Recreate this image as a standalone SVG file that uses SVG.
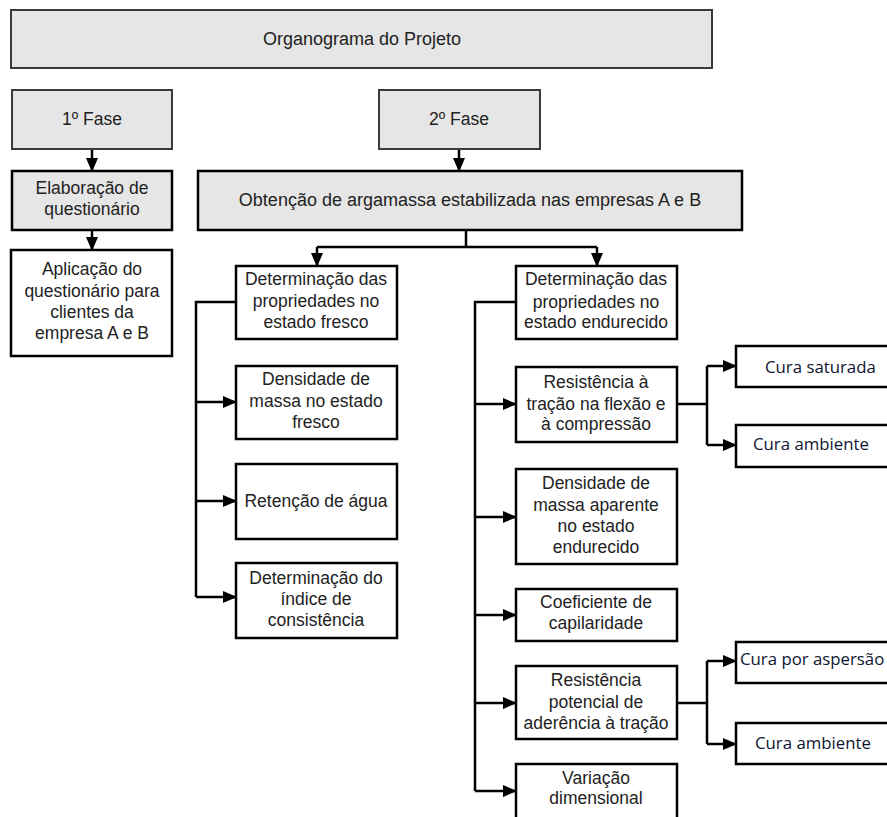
<svg xmlns="http://www.w3.org/2000/svg" width="887" height="817" viewBox="0 0 887 817">
<defs>
<marker id="ah" markerUnits="userSpaceOnUse" markerWidth="14" markerHeight="12" refX="13" refY="6" orient="auto">
<path d="M0,0 L14,6 L0,12 Z" fill="#000"/>
</marker>
<style>
.g{fill:#e6e6e6;stroke:#3a3a3a;stroke-width:2}
.gb{fill:#e6e6e6;stroke:#000;stroke-width:2.5}
.w{fill:#fff;stroke:#000;stroke-width:2.5}
.t{font-family:"Liberation Sans",Arial,sans-serif;font-size:17.5px;fill:#222;text-anchor:middle}
.c{font-family:"Open Sans","Noto Sans",sans-serif;font-size:16.8px;fill:#0d1530}
.ln{fill:none;stroke:#000;stroke-width:2.5}
.ar{fill:none;stroke:#000;stroke-width:2.5;marker-end:url(#ah)}
</style>
</defs>
<rect width="887" height="817" fill="#fff"/>
<g id="connectors">
<path class="ar" d="M92,149 V171"/>
<path class="ar" d="M92,230 V250"/>
<path class="ar" d="M459,149 V171"/>
<path class="ln" d="M466,230 V247 M317,247 H597"/>
<path class="ar" d="M317,247 V266"/>
<path class="ar" d="M597,247 V266"/>
<path class="ln" d="M236,302 H196 V597"/>
<path class="ar" d="M196,402 H236"/>
<path class="ar" d="M196,501 H236"/>
<path class="ar" d="M196,597 H236"/>
<path class="ln" d="M516,302 H475 V791"/>
<path class="ar" d="M475,404 H516"/>
<path class="ar" d="M475,517 H516"/>
<path class="ar" d="M475,615 H516"/>
<path class="ar" d="M475,703 H516"/>
<path class="ar" d="M475,791 H516"/>
<path class="ln" d="M677,404 H707 M707,366 V445"/>
<path class="ar" d="M707,366 H736"/>
<path class="ar" d="M707,445 H736"/>
<path class="ln" d="M677,703 H707 M707,661 V744"/>
<path class="ar" d="M707,661 H736"/>
<path class="ar" d="M707,744 H736"/>
</g>
<g id="organograma"><rect class="g" x="11" y="10" width="701" height="58"/><text class="t" x="362" y="45" style="font-size:18px">Organograma do Projeto</text></g>
<g id="fase1"><rect class="g" x="12" y="90" width="160" height="59"/><text class="t" x="92" y="125">1º Fase</text></g>
<g id="fase2"><rect class="g" x="379" y="90" width="161" height="59"/><text class="t" x="459" y="125">2º Fase</text></g>
<g id="elaboracao"><rect class="gb" x="12" y="171" width="160" height="59"/><text class="t" x="92" y="194">Elaboração de</text><text class="t" x="92" y="215">questionário</text></g>
<g id="obtencao"><rect class="gb" x="198" y="171" width="544" height="59"/><text class="t" x="470" y="206" style="font-size:18px">Obtenção de argamassa estabilizada nas empresas A e B</text></g>
<g id="aplicacao"><rect class="w" x="11" y="250" width="161" height="106"/><text class="t" x="92" y="275">Aplicação do</text><text class="t" x="92" y="297">questionário para</text><text class="t" x="92" y="318">clientes da</text><text class="t" x="92" y="339">empresa A e B</text></g>
<g id="fresco"><rect class="w" x="236" y="266" width="161" height="73"/><text class="t" x="316" y="285">Determinação das</text><text class="t" x="316" y="307">propriedades no</text><text class="t" x="316" y="328">estado fresco</text></g>
<g id="densidade-fresco"><rect class="w" x="236" y="366" width="161" height="73"/><text class="t" x="316" y="385">Densidade de</text><text class="t" x="316" y="407">massa no estado</text><text class="t" x="316" y="428">fresco</text></g>
<g id="retencao"><rect class="w" x="236" y="464" width="161" height="75"/><text class="t" x="316" y="507">Retenção de água</text></g>
<g id="indice"><rect class="w" x="236" y="563" width="161" height="75"/><text class="t" x="316" y="584">Determinação do</text><text class="t" x="316" y="605">índice de</text><text class="t" x="316" y="626">consistência</text></g>
<g id="endurecido"><rect class="w" x="516" y="266" width="161" height="73"/><text class="t" x="596" y="285">Determinação das</text><text class="t" x="596" y="308">propriedades no</text><text class="t" x="596" y="328">estado endurecido</text></g>
<g id="resistencia-tracao"><rect class="w" x="516" y="367" width="161" height="75"/><text class="t" x="596" y="388">Resistência à</text><text class="t" x="596" y="410">tração na flexão e</text><text class="t" x="596" y="430">à compressão</text></g>
<g id="densidade-aparente"><rect class="w" x="516" y="469" width="161" height="95"/><text class="t" x="596" y="489">Densidade de</text><text class="t" x="596" y="511">massa aparente</text><text class="t" x="596" y="532">no estado</text><text class="t" x="596" y="553">endurecido</text></g>
<g id="coeficiente"><rect class="w" x="516" y="589" width="161" height="52"/><text class="t" x="596" y="608">Coeficiente de</text><text class="t" x="596" y="629">capilaridade</text></g>
<g id="resistencia-aderencia"><rect class="w" x="516" y="666" width="161" height="73"/><text class="t" x="596" y="686">Resistência</text><text class="t" x="596" y="708">potencial de</text><text class="t" x="596" y="729">aderência à tração</text></g>
<g id="variacao"><rect class="w" x="516" y="764" width="161" height="70"/><text class="t" x="596" y="784">Variação</text><text class="t" x="596" y="804">dimensional</text></g>
<g id="cura-saturada"><rect class="w" x="736" y="346" width="160" height="41"/><text class="c" x="765" y="373">Cura saturada</text></g>
<g id="cura-ambiente-1"><rect class="w" x="736" y="425" width="160" height="42"/><text class="c" x="753" y="450">Cura ambiente</text></g>
<g id="cura-aspersao"><rect class="w" x="736" y="642" width="160" height="41"/><text class="c" x="740" y="665">Cura por aspersão</text></g>
<g id="cura-ambiente-2"><rect class="w" x="736" y="723" width="160" height="41"/><text class="c" x="755" y="749">Cura ambiente</text></g>
</svg>
